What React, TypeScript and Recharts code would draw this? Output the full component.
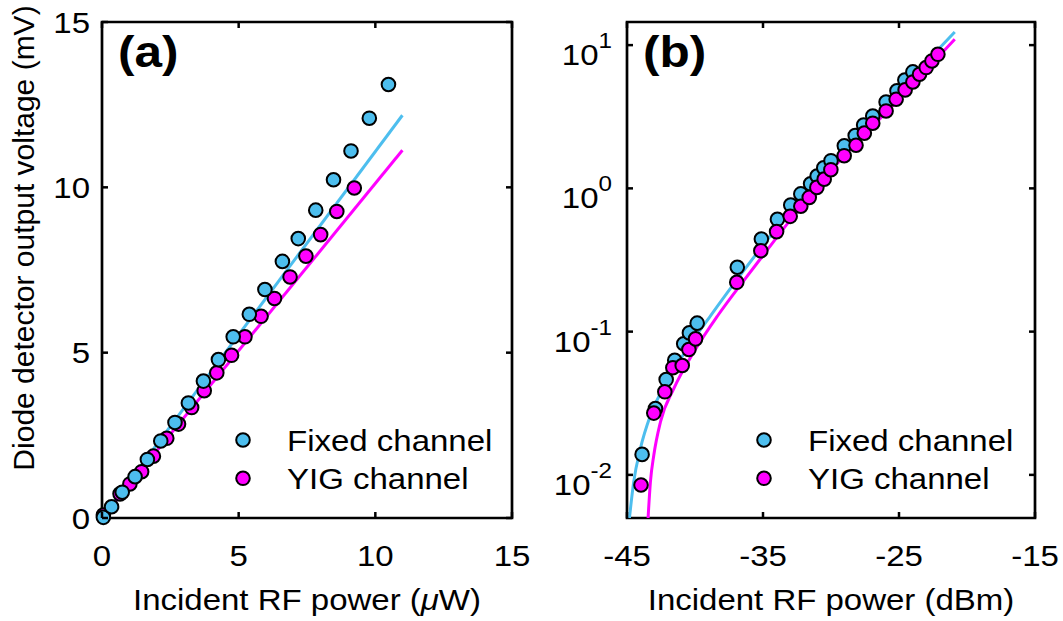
import { ComposedChart, Scatter, Line, XAxis, YAxis, ReferenceArea, Legend } from 'recharts';

const FONT = '"Liberation Sans", Arial, Helvetica, sans-serif';
const CYAN = '#4DBEEE';
const MAGENTA = '#FF00FF';

// panel (a) - linear axes, incident power in uW vs detector voltage in mV
const powerFixedUw = [0.05, 0.35, 0.74, 1.21, 1.66, 2.15, 2.67, 3.16, 3.71, 4.26, 4.8, 5.39, 5.96, 6.6, 7.18, 7.82, 8.47, 9.11, 9.78, 10.48];
const voltFixedA = [0.02, 0.34, 0.78, 1.25, 1.77, 2.33, 2.89, 3.48, 4.14, 4.79, 5.48, 6.16, 6.91, 7.76, 8.45, 9.31, 10.23, 11.1, 12.09, 13.11];
const powerYigUw = [0.05, 0.66, 1.02, 1.45, 1.88, 2.37, 2.8, 3.28, 3.74, 4.2, 4.74, 5.23, 5.82, 6.31, 6.88, 7.46, 8.0, 8.59, 9.23];
const voltYigA = [0.09, 0.73, 1.03, 1.4, 1.87, 2.41, 2.84, 3.34, 3.85, 4.39, 4.92, 5.48, 6.1, 6.64, 7.29, 7.92, 8.57, 9.27, 9.98];
const fitFixedUw = [0, 10.99];
const fitFixedMv = [0, 12.18];
const fitYigUw = [0, 10.99];
const fitYigMv = [0, 11.12];

// panel (b) - dBm vs log voltage
const powerFixedDbm = [-43.89, -42.91, -42.12, -41.49, -40.83, -40.41, -39.84, -36.89, -35.12, -33.94, -32.96, -32.22, -31.5, -31.02, -30.53, -30.0, -29.02, -28.22, -27.6, -26.93, -25.95, -25.15, -24.57, -23.98];
const voltFixedB = [0.0139, 0.029, 0.0463, 0.063, 0.0823, 0.098, 0.1146, 0.2815, 0.443, 0.608, 0.765, 0.915, 1.075, 1.22, 1.39, 1.56, 1.98, 2.34, 2.77, 3.2, 4.0, 4.8, 5.7, 6.5];
const powerYigDbm = [-43.97, -43.03, -42.22, -41.63, -40.94, -40.45, -39.96, -36.93, -35.16, -34.0, -33.0, -32.22, -31.6, -31.04, -30.5, -30.01, -29.03, -28.16, -27.55, -26.93, -25.95, -25.21, -24.55, -23.98, -23.49, -23.0, -22.58, -22.14];
const voltYigB = [0.0085, 0.027, 0.038, 0.056, 0.058, 0.075, 0.089, 0.221, 0.367, 0.499, 0.638, 0.75, 0.865, 1.016, 1.16, 1.35, 1.69, 2.0, 2.43, 2.85, 3.47, 4.19, 4.87, 5.53, 6.26, 6.97, 7.75, 8.63];
const curveFixedDbm = [-44.82, -44.51, -44.02, -43.28, -42.05, -40.58, -38.86, -36.64, -35, -33, -30, -25, -20.9];
const curveFixedMv = [0.005, 0.0089, 0.0152, 0.026, 0.0445, 0.0759, 0.129, 0.25, 0.4, 0.7, 1.5, 4.8, 12.36];
const curveYigDbm = [-43.45, -43.28, -43.03, -42.54, -41.56, -40.09, -38.36, -36.4, -35, -33, -30, -25, -20.9];
const curveYigMv = [0.005, 0.0089, 0.0137, 0.0234, 0.04, 0.072, 0.128, 0.228, 0.34, 0.6, 1.33, 4.2, 10.98];

const ticksA = [0, 5, 10, 15];
const ticksBx = [-45, -35, -25, -15];
const ticksBy = [0.01, 0.1, 1, 10];
const ticksByExp = ['-2', '-1', '0', '1'];
const legendOrder = ['Fixed channel', 'YIG channel'];

const zip = (xs: number[], ys: number[]) => xs.map((x, i) => ({ x, y: ys[i] }));

// plot box (chart-local pixels)
const H = 621;
const TOP = 22;
const BOTTOM = 518;
const A_LEFT = 102;
const A_RIGHT = 512;
const B_SHIFT = 530;
const B_LEFT = 97;
const B_RIGHT = 505;
const R = 6.8;

// the source figure is stretched a bit horizontally, so text is widened too
function Txt({ x, y, anchor = 'start', size = 30, bold = false, children }: any) {
  return (
    <text
      transform={`translate(${x},${y}) scale(1.1,1)`}
      textAnchor={anchor}
      fontFamily={FONT}
      fontSize={size}
      fontWeight={bold ? 700 : 400}
      fill="#000"
    >
      {children}
    </text>
  );
}

const tickLine = { stroke: '#000', strokeWidth: 2.5 };

const xTick = (props: any) => {
  const { x, y, payload } = props;
  return (
    <g>
      <line x1={x} x2={x} y1={y} y2={y - 6} {...tickLine} />
      <line x1={x} x2={x} y1={TOP} y2={TOP + 6} {...tickLine} />
      <Txt x={x} y={y + 48} anchor="middle">{payload.value}</Txt>
    </g>
  );
};

const yTickA = (props: any) => {
  const { x, y, payload } = props;
  return (
    <g>
      <line x1={x} x2={x + 6} y1={y} y2={y} {...tickLine} />
      <line x1={A_RIGHT - 6} x2={A_RIGHT} y1={y} y2={y} {...tickLine} />
      <Txt x={x - 12} y={y + 10.8} anchor="end">{payload.value}</Txt>
    </g>
  );
};

const yTickB = (props: any) => {
  const { x, y, payload } = props;
  const exp = ticksByExp[ticksBy.indexOf(payload.value)];
  return (
    <g>
      <line x1={x} x2={x + 6} y1={y} y2={y} {...tickLine} />
      <line x1={B_RIGHT - 6} x2={B_RIGHT} y1={y} y2={y} {...tickLine} />
      <Txt x={x - 15} y={y + 20} anchor="end">
        <tspan>10</tspan>
        <tspan dy={-17} fontSize={22}>{exp}</tspan>
      </Txt>
    </g>
  );
};

const dot = (color: string) => (p: any) => (
  <circle cx={p.cx} cy={p.cy} r={R} fill={color} stroke="#000" strokeWidth={2} />
);

const LegendBox = ({ payload }: any) => {
  const items = (payload || [])
    .filter((e: any) => legendOrder.includes(e.value))
    .sort((a: any, b: any) => legendOrder.indexOf(a.value) - legendOrder.indexOf(b.value));
  return (
    <svg width={300} height={80} style={{ overflow: 'visible' }}>
      {items.map((e: any, i: number) => (
        <g key={e.value}>
          <circle
            cx={10}
            cy={20 + i * 38.3}
            r={R}
            fill={e.value === 'Fixed channel' ? CYAN : MAGENTA}
            stroke="#000"
            strokeWidth={2}
          />
          <Txt x={54} y={30.8 + i * 38.3}>{e.value}</Txt>
        </g>
      ))}
    </svg>
  );
};

function PanelA() {
  return (
    <ComposedChart width={530} height={H} margin={{ top: TOP, right: 530 - A_RIGHT, bottom: H - BOTTOM - 60, left: A_LEFT - 60 }}>
      <XAxis
        dataKey="x"
        type="number"
        domain={[0, 15]}
        ticks={ticksA}
        interval={0}
        height={60}
        axisLine={false}
        tickLine={false}
        tickSize={0}
        tickMargin={0}
        tick={xTick}
        label={{
          content: () => (
            <Txt x={(A_LEFT + A_RIGHT) / 2} y={610} anchor="middle">
              Incident RF power (<tspan fontStyle="italic">μ</tspan>W)
            </Txt>
          ),
        }}
      />
      <YAxis
        type="number"
        domain={[0, 15]}
        ticks={ticksA}
        interval={0}
        width={60}
        axisLine={false}
        tickLine={false}
        tickSize={0}
        tickMargin={0}
        tick={yTickA}
        label={{
          content: () => (
            <text transform="translate(33.5,238) rotate(-90)" textAnchor="middle" fontFamily={FONT} fontSize={30} fill="#000">
              Diode detector output voltage (mV)
            </text>
          ),
        }}
      />
      <ReferenceArea
        x1={0}
        x2={15}
        y1={0}
        y2={15}
        fill="none"
        stroke="#000"
        strokeWidth={2.7}
        ifOverflow="visible"
        label={{ content: () => <Txt x={A_LEFT + 16} y={TOP + 45} size={45} bold>(a)</Txt> }}
      />
      <Line data={zip(fitFixedUw, fitFixedMv)} dataKey="y" stroke={CYAN} strokeWidth={3} dot={false} legendType="none" isAnimationActive={false} />
      <Line data={zip(fitYigUw, fitYigMv)} dataKey="y" stroke={MAGENTA} strokeWidth={3} dot={false} legendType="none" isAnimationActive={false} />
      <Scatter name="YIG channel" data={zip(powerYigUw, voltYigA)} dataKey="y" fill={MAGENTA} shape={dot(MAGENTA)} isAnimationActive={false} />
      <Scatter name="Fixed channel" data={zip(powerFixedUw, voltFixedA)} dataKey="y" fill={CYAN} shape={dot(CYAN)} isAnimationActive={false} />
      <Legend
        layout="vertical"
        align="center"
        verticalAlign="middle"
        wrapperStyle={{ left: 232.7, top: 420, width: 300, height: 80 }}
        content={(p: any) => <LegendBox payload={p.payload} />}
      />
    </ComposedChart>
  );
}

function PanelB() {
  return (
    <ComposedChart width={533} height={H} margin={{ top: TOP, right: 533 - B_RIGHT, bottom: H - BOTTOM - 60, left: B_LEFT - 60 }}>
      <XAxis
        dataKey="x"
        type="number"
        domain={[-45, -15]}
        ticks={ticksBx}
        interval={0}
        height={60}
        axisLine={false}
        tickLine={false}
        tickSize={0}
        tickMargin={0}
        tick={xTick}
        label={{
          content: () => (
            <Txt x={(B_LEFT + B_RIGHT) / 2} y={610} anchor="middle">
              Incident RF power (dBm)
            </Txt>
          ),
        }}
      />
      <YAxis
        type="number"
        scale="log"
        domain={[0.005, 14.5]}
        allowDataOverflow
        ticks={ticksBy}
        interval={0}
        width={60}
        axisLine={false}
        tickLine={false}
        tickSize={0}
        tickMargin={0}
        tick={yTickB}
      />
      <ReferenceArea
        x1={-45}
        x2={-15}
        y1={0.005}
        y2={14.5}
        fill="none"
        stroke="#000"
        strokeWidth={2.7}
        ifOverflow="visible"
        label={{ content: () => <Txt x={B_LEFT + 16} y={TOP + 45} size={45} bold>(b)</Txt> }}
      />
      <Line data={zip(curveFixedDbm, curveFixedMv)} dataKey="y" type="monotone" stroke={CYAN} strokeWidth={3} dot={false} legendType="none" isAnimationActive={false} />
      <Line data={zip(curveYigDbm, curveYigMv)} dataKey="y" type="monotone" stroke={MAGENTA} strokeWidth={3} dot={false} legendType="none" isAnimationActive={false} />
      <Scatter name="Fixed channel" data={zip(powerFixedDbm, voltFixedB)} dataKey="y" fill={CYAN} shape={dot(CYAN)} isAnimationActive={false} />
      <Scatter name="YIG channel" data={zip(powerYigDbm, voltYigB)} dataKey="y" fill={MAGENTA} shape={dot(MAGENTA)} isAnimationActive={false} />
      <Legend
        layout="vertical"
        align="center"
        verticalAlign="middle"
        wrapperStyle={{ left: 224.3, top: 420, width: 300, height: 80 }}
        content={(p: any) => <LegendBox payload={p.payload} />}
      />
    </ComposedChart>
  );
}

export default function App() {
  return (
    <div style={{ position: 'absolute', left: 0, top: 0, width: 1063, height: H, background: '#fff' }}>
      <div style={{ position: 'absolute', left: 0, top: 0 }}>
        <PanelA />
      </div>
      <div style={{ position: 'absolute', left: B_SHIFT, top: 0 }}>
        <PanelB />
      </div>
    </div>
  );
}
